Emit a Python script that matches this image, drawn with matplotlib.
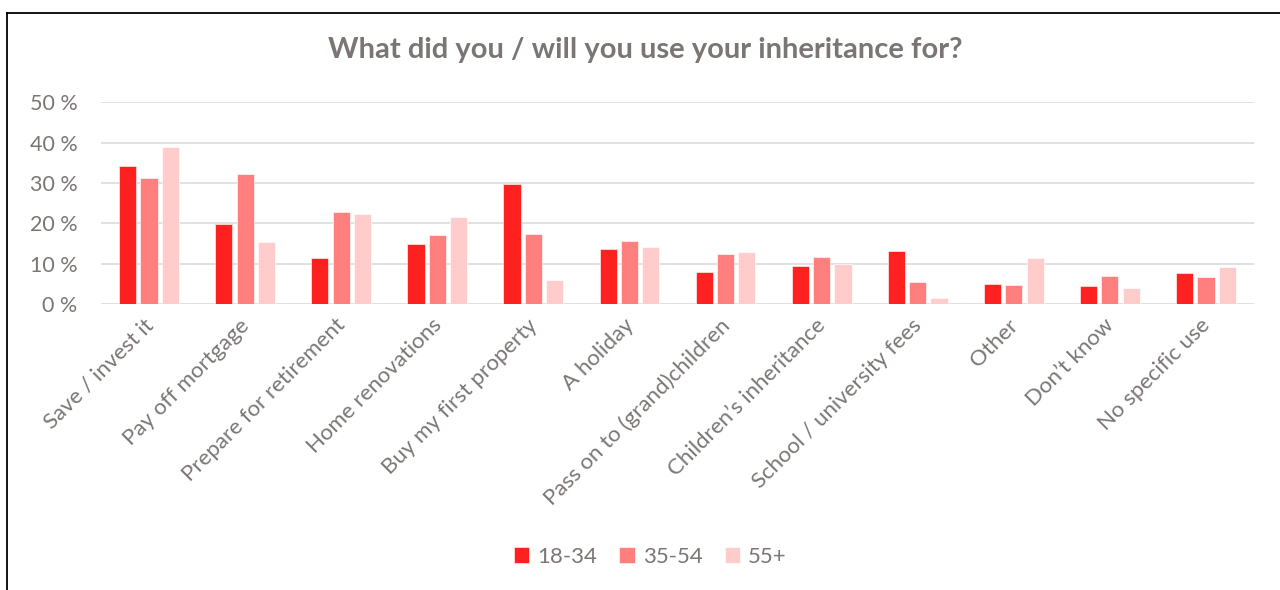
import matplotlib.pyplot as plt
import matplotlib.transforms as mtransforms
from matplotlib.lines import Line2D
from matplotlib.ticker import FuncFormatter
import numpy as np

categories = ["Save / invest it", "Pay off mortgage", "Prepare for retirement",
              "Home renovations", "Buy my first property", "A holiday",
              "Pass on to (grand)children", "Children\u2019s inheritance",
              "School / university fees", "Other", "Don\u2019t know", "No specific use"]
series_names = ["18-34", "35-54", "55+"]
age_18_34 = [34.2, 19.9, 11.4, 14.9, 29.8, 13.7, 7.9, 9.4, 13.2, 5.0, 4.5, 7.6]
age_35_54 = [31.2, 32.2, 22.7, 17.0, 17.4, 15.6, 12.4, 11.6, 5.5, 4.6, 6.9, 6.6]
age_55_up = [39.0, 15.3, 22.3, 21.6, 6.0, 14.2, 12.9, 10.0, 1.5, 11.3, 4.0, 9.2]
colors = ["#ff2020", "#ff7f7f", "#ffcccc"]

grey = "#7b7574"
plt.rcParams['font.family'] = ['Lato', 'DejaVu Sans']

fig = plt.figure(figsize=(12.8, 5.9), dpi=100)
ax = fig.add_axes([0.0789, 0.4847, 0.9008, 0.3419])

x = np.arange(len(categories))
w = 0.178
step = 0.222
for i, (vals, name) in enumerate(zip([age_18_34, age_35_54, age_55_up], series_names)):
    ax.bar(x + (i - 1) * step, vals, width=w, color=colors[i], label=name,
           edgecolor='white', linewidth=0.4, zorder=3)

ax.set_xlim(-0.5, len(categories) - 0.5)
ax.set_ylim(0, 50)
ax.set_yticks(range(0, 51, 10))
ax.yaxis.set_major_formatter(FuncFormatter(lambda v, p: '%d %%' % v))
ax.grid(axis='y', color='#dcdcdc', linewidth=1.2, zorder=0)
for s in ax.spines.values():
    s.set_visible(False)
ax.tick_params(axis='y', length=0, pad=17, labelsize=15.5, labelcolor=grey)
ax.tick_params(axis='x', length=0, pad=8, labelsize=16, labelcolor=grey)
ax.set_xticks(x)
ax.set_xticklabels(categories, rotation=45, ha='right', rotation_mode='anchor')
offset = mtransforms.ScaledTranslation(-6 / 100, 0, fig.dpi_scale_trans)
for lab in ax.get_xticklabels():
    lab.set_transform(lab.get_transform() + offset)

fig.text(0.504, 0.915, "What did you / will you use your inheritance for?",
         ha='center', va='center', fontsize=21, fontweight='bold', color=grey)

fig.legend(loc='center', bbox_to_anchor=(0.508, 0.056), ncol=3, frameon=False,
           fontsize=16, labelcolor=grey, handlelength=0.7, handleheight=0.7,
           handletextpad=0.35, columnspacing=1.0)

# frame around the chart (cut off at right and bottom)
fig.add_artist(Line2D([7 / 1280, 7 / 1280], [0, 1 - 13 / 590], color='black', linewidth=1.3))
fig.add_artist(Line2D([7 / 1280, 1], [1 - 13 / 590, 1 - 13 / 590], color='black', linewidth=1.3))

fig.savefig('out.png', dpi=100, facecolor='white')
